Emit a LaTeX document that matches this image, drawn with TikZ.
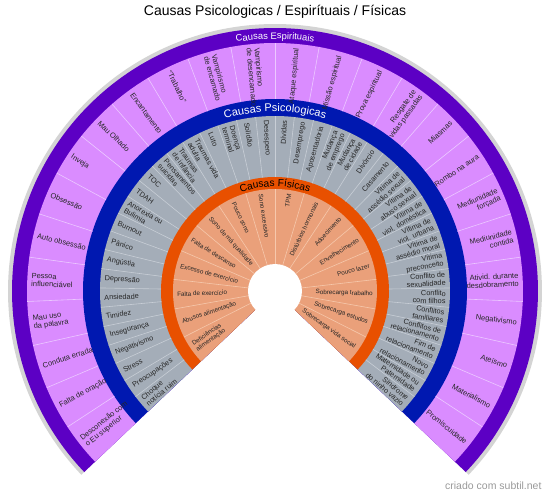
\documentclass[tikz,border=0pt]{standalone}
\usepackage{fontspec}
\setmainfont{Liberation Sans}
\usetikzlibrary{decorations.text}

\definecolor{rimgray}{RGB}{212,212,212}
\definecolor{espband}{RGB}{92,0,196}
\definecolor{espfill}{RGB}{218,140,255}
\definecolor{espline}{RGB}{236,200,255}
\definecolor{psiband}{RGB}{0,24,176}
\definecolor{psifill}{RGB}{164,173,184}
\definecolor{psiline}{RGB}{200,206,214}
\definecolor{fisband}{RGB}{232,80,0}
\definecolor{fisfill}{RGB}{234,160,122}
\definecolor{fisline}{RGB}{246,200,172}

\begin{document}
\begin{tikzpicture}[x=1pt, y=1pt,
    esplabel/.style={font=\fontsize{7.5}{8}\selectfont, inner sep=0pt, text=black!85},
    psilabel/.style={font=\fontsize{7.3}{7.8}\selectfont, inner sep=0pt, text=black!85},
    fislabel/.style={font=\fontsize{6.3}{6.9}\selectfont, inner sep=0pt, text=black!85},
    sepline/.style={line width=0.6pt}]

    \useasboundingbox (-275,-205) rectangle (275,291);

    % Title
    \node[font=\fontsize{14}{16}\selectfont] (title) at (0,279) {Causas Psicologicas / Espirítuais / Físicas};

    % Rings, from the outside in
    \fill[rimgray] (0,0) -- (223.5:267) arc[start angle=223.5, end angle=-43.5, radius=267] -- cycle;
    \fill[espband] (0,0) -- (223.5:263) arc[start angle=223.5, end angle=-43.5, radius=263] -- cycle;
    \fill[espfill] (0,0) -- (223.5:248) arc[start angle=223.5, end angle=-43.5, radius=248] -- cycle;
    \fill[psiband] (0,0) -- (223.5:192) arc[start angle=223.5, end angle=-43.5, radius=192] -- cycle;
    \fill[psifill] (0,0) -- (223.5:175) arc[start angle=223.5, end angle=-43.5, radius=175] -- cycle;
    \fill[fisband] (0,0) -- (223.5:114) arc[start angle=223.5, end angle=-43.5, radius=114] -- cycle;
    \fill[fisfill] (0,0) -- (223.5:102) arc[start angle=223.5, end angle=-43.5, radius=102] -- cycle;

    % Separators
    \foreach \k in {1,...,25} {
        \pgfmathsetmacro\b{223.5-\k*267/26}
        \draw[sepline, espline] (\b:192) -- (\b:248);
    }
    \foreach \k in {1,...,41} {
        \pgfmathsetmacro\b{223.5-\k*267/42}
        \draw[sepline, psiline] (\b:114) -- (\b:175);
    }
    \foreach \k in {1,...,15} {
        \pgfmathsetmacro\b{223.5-\k*267/16}
        \draw[sepline, fisline] (\b:27) -- (\b:102);
    }

    % Hole
    \fill[white] (0,0) circle[radius=27];

    % Band titles
    \path[decorate, decoration={text along path, text align=center, text color=white,
        text={|\fontsize{9.4}{10}\selectfont|Causas Espirituais}}]
        (135:252) arc[start angle=135, end angle=45, radius=252];
    \path[decorate, decoration={text along path, text align=center, text color=white,
        text={|\fontsize{11}{12}\selectfont|Causas Psicologicas}}]
        (135:179.5) arc[start angle=135, end angle=45, radius=179.5];
    \path[decorate, decoration={text along path, text align=center, text color=black,
        text={|\fontsize{10.2}{11}\selectfont|Causas Físicas}}]
        (135:104.5) arc[start angle=135, end angle=45, radius=104.5];

    % Spiritual causes
    \foreach \t [count=\i] in {{Desconexão com\\o Eu superior}, {Falta de oração}, {Conduta errada},
        {Mau uso\\da palavra}, {Pessoa\\influenciável}, {Auto obsessão}, {Obsessão}, {Inveja},
        {Mau Olhado}, {Encantamento}, {“Trabalho”}, {Vampirismo\\de encarnado},
        {Vampirismo\\de desencarnado}, {Ataque espiritual}, {Missão espiritual}, {Prova espiritual},
        {Resgate de\\vidas passadas}, {Miasmas}, {Rombo na aura}, {Mediunidade\\forçada},
        {Mediunidade\\contida}, {Ativid. durante\\desdobramento}, {Negativismo}, {Ateísmo},
        {Materialismo}, {Promiscuidade}} {
        \pgfmathsetmacro\a{223.5-(\i-0.5)*267/26}
        \ifdim\a pt>90pt
            \node[esplabel, rotate=\a-180, anchor=west, align=left] (esp\i) at (\a:244) {\t};
        \else
            \node[esplabel, rotate=\a, anchor=east, align=right] (esp\i) at (\a:244) {\t};
        \fi
    }

    % Psychological causes
    \foreach \t [count=\i] in {{Choque\\notícia ruim}, {Preocupações}, {Stress}, {Negativismo},
        {Insegurança}, {Timidez}, {Ansiedade}, {Depressão}, {Angústia}, {Pânico}, {Burnout},
        {Anorexia ou\\Bulimia}, {TDAH}, {TOC}, {Pensamentos\\suicidas}, {Traumas\\de infância},
        {Traumas vida\\adulta}, {Luto}, {Doença\\terminal}, {Solidão}, {Desespero}, {Dívidas},
        {Desemprego}, {Aposentadoria}, {Mudança\\de emprego}, {Mudança\\de cidade}, {Divórcio},
        {Casamento}, {Vítima de\\assédio sexual}, {Vítima de\\abuso sexual},
        {Vítima de\\viol. doméstica}, {Vítima de\\viol. urbana}, {Vítima de\\assédio moral},
        {Vítima\\preconceito}, {Conflito de\\sexualidade}, {Conflito\\com filhos},
        {Conflitos\\familiares}, {Conflitos de\\relacionamento}, {Fim de\\relacionamento},
        {Novo\\relacionamento}, {Maternidade ou\\Paternidade}, {Síndrome\\do ninho vazio}} {
        \pgfmathsetmacro\a{223.5-(\i-0.5)*267/42}
        \ifdim\a pt>90pt
            \node[psilabel, rotate=\a-180, anchor=west, align=left] (psi\i) at (\a:171) {\t};
        \else
            \node[psilabel, rotate=\a, anchor=east, align=right] (psi\i) at (\a:171) {\t};
        \fi
    }

    % Physical causes
    \foreach \t [count=\i] in {{Deficiências\\alimentação}, {Abusos alimentação},
        {Falta de exercício}, {Excesso de exercício}, {Falta de descanso}, {Sono de má qualidade},
        {Pouco sono}, {Sono excessivo}, {TPM}, {Distúrbios hormonais}, {Adoecimento},
        {Envelhecimento}, {Pouco lazer}, {Sobrecarga trabalho}, {Sobrecarga estudos},
        {Sobrecarga vida social}} {
        \pgfmathsetmacro\a{223.5-(\i-0.5)*267/16}
        \ifdim\a pt>90pt
            \node[fislabel, rotate=\a-180, anchor=west, align=left] (fis\i) at (\a:98) {\t};
        \else
            \node[fislabel, rotate=\a, anchor=east, align=right] (fis\i) at (\a:98) {\t};
        \fi
    }

    % Credit
    \node[anchor=east, text=black!40, font=\fontsize{10.5}{12}\selectfont] (credit) at (270,-195) {criado com subtil.net};
\end{tikzpicture}
\end{document}
